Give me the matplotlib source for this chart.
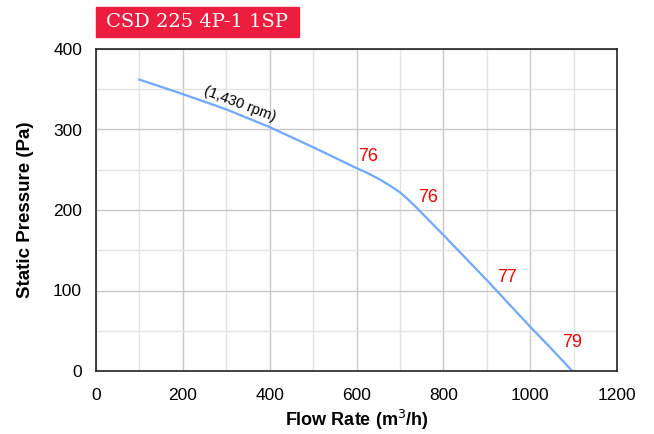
import matplotlib
matplotlib.use("Agg")
import matplotlib.pyplot as plt
from matplotlib.patches import Rectangle

flow = [100, 200, 300, 400, 500, 600, 625, 650, 675, 700, 720, 740, 760,
        800, 900, 1000, 1050, 1097]
pressure = [362, 344, 325, 303, 278, 252, 246, 239, 231, 222, 212.5, 202, 191,
            169, 113, 55, 27, 0]

label_flow = [627, 765, 947, 1097]
label_pres = [267, 216, 116, 36]
label_text = ["76", "76", "77", "79"]

title = "CSD 225 4P-1 1SP"
rpm_text = "(1,430 rpm)"

plt.rcParams['font.family'] = ['Liberation Sans', 'DejaVu Sans']

fig = plt.figure(figsize=(6.54, 4.34), dpi=100)
ax = fig.add_axes([96/654, 1 - 371/434, (617-96)/654, (371-49)/434])

ax.set_xlim(0, 1200)
ax.set_ylim(0, 400)
ax.set_xticks(range(0, 1201, 200))
ax.set_yticks(range(0, 401, 100))
ax.set_xticks(range(100, 1200, 200), minor=True)
ax.set_yticks(range(50, 400, 100), minor=True)
ax.grid(True, which='major', color='#c8c8c8', linewidth=1.0)
ax.grid(True, which='minor', color='#e4e4e4', linewidth=1.0)
ax.set_axisbelow(True)
ax.tick_params(which='both', length=0, labelsize=12.5)
ax.tick_params(axis='x', pad=12)
ax.tick_params(axis='y', pad=10)
for s in ax.spines.values():
    s.set_color('#222222')
    s.set_linewidth(1.2)

ax.plot(flow, pressure, color='#6fa8ff', linewidth=1.6)

for fx, py, t in zip(label_flow, label_pres, label_text):
    ax.text(fx, py, t, color='#ff0000', fontsize=13, ha='center', va='center')

ax.text(250, 349, rpm_text, fontsize=10.5, rotation=-21, ha='left', va='center',
        rotation_mode='anchor')

ax.set_xlabel("Flow Rate (m$^3$/h)", fontsize=13, fontweight='bold', labelpad=4)
ax.set_ylabel("Static Pressure (Pa)", fontsize=13.5, fontweight='bold', labelpad=14)

# Title box
fig.patches.append(Rectangle((96/654, 1 - 37/434), (299-96)/654, 30/434,
                             transform=fig.transFigure, color='#ec1d3f', zorder=0))
fig.text(197/654, 1 - 22/434, title, color='white', fontsize=14,
         family=['DejaVu Serif'], ha='center', va='center')

fig.savefig("out.png", dpi=100)
